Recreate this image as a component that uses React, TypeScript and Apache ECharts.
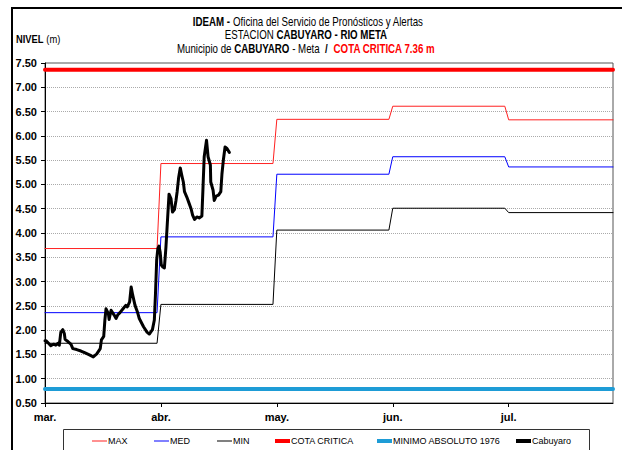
import React, { useEffect, useRef } from "react";
import * as echarts from "echarts";

const monthLabels = ["mar.", "abr.", "may.", "jun.", "jul."];
const maxMonthly = [3.68, 5.43, 6.34, 6.61, 6.33];
const medMonthly = [2.36, 3.92, 5.21, 5.57, 5.36];
const minMonthly = [1.73, 2.53, 4.06, 4.51, 4.42];
const cotaCritica = 7.36;
const minimoAbsoluto = 0.79;
const lastDay = 147;

const cabDays = [
  0, 0.3, 0.9, 1.5, 2.2, 2.8, 3.4, 3.7, 4.1, 4.6, 5.0, 5.2, 6.0, 6.7, 7.2, 8.2, 9.3, 10.4, 11.5, 12.5,
  13.4, 14.3, 14.6, 15.2, 15.5, 15.8, 16.4, 16.6, 17.1, 17.9, 18.4, 18.8, 19.4, 20.3, 20.9, 21.3, 21.9,
  22.3, 22.7, 23.3, 23.9, 24.4, 25.5, 26.4, 27.0, 27.8, 28.3, 28.6, 28.9, 29.2, 29.5, 29.8, 30.1, 30.5,
  30.9, 31.3, 31.7, 32.1, 32.6, 33.0, 33.5, 33.9, 34.2, 34.6, 35.0, 35.4, 35.8, 36.1, 36.7, 37.3, 37.8,
  38.2, 38.7, 39.3, 39.9, 40.6, 40.9, 41.2, 41.8, 42.2, 42.8, 42.9, 43.5, 43.8, 44.3, 44.9, 45.5, 45.8,
  46.2, 46.6, 47.1, 47.7,
];
const cabLevels = [
  1.78, 1.78, 1.73, 1.68, 1.71, 1.69, 1.73, 1.69, 1.96, 2.01, 1.93, 1.81, 1.76, 1.71, 1.62, 1.6, 1.57, 1.53,
  1.49, 1.45, 1.51, 1.62, 1.8, 1.87, 2.21, 2.44, 2.34, 2.22, 2.41, 2.31, 2.24, 2.31, 2.36, 2.45, 2.51, 2.48,
  2.58, 2.89, 2.72, 2.51, 2.38, 2.24, 2.07, 1.96, 1.92, 2.01, 2.21, 2.76, 3.44, 3.68, 3.73, 3.61, 3.34, 3.3,
  3.28, 3.71, 4.26, 4.8, 4.71, 4.43, 4.48, 4.67, 4.85, 5.15, 5.34, 5.19, 5.05, 4.85, 4.74, 4.61, 4.5, 4.37,
  4.28, 4.33, 4.31, 4.35, 4.95, 5.57, 5.91, 5.57, 5.4, 5.05, 4.88, 4.67, 4.76, 4.78, 4.85, 5.22, 5.53, 5.77,
  5.74, 5.66,
];

const FONT = '"Liberation Sans", Arial, sans-serif';

function stepData(values: number[]) {
  const pts: number[][] = [];
  values.forEach((v, m) => {
    const start = m * 30;
    const end = m === values.length - 1 ? lastDay : m * 30 + 29;
    pts.push([start, v], [end, v]);
  });
  return pts;
}

function flatData(v: number) {
  return [
    [0, v],
    [lastDay, v],
  ];
}

export default function App() {
  const ref = useRef<HTMLDivElement>(null);
  useEffect(() => {
    if (!ref.current) return;
    const chart = echarts.init(ref.current, undefined, { renderer: "svg" });
    const legendItem = (name: string, left: number, h: number) => ({
      left,
      top: 435,
      padding: 0,
      itemWidth: 15,
      itemHeight: h,
      icon: "rect",
      selectedMode: false,
      data: [name],
      textStyle: { fontFamily: FONT, fontSize: 9, color: "#000", lineHeight: 12, padding: [0, 0, 0, -4] },
    });
    const lineSeries = (name: string, data: number[][], color: string, width: number, z: number) => ({
      name,
      type: "line",
      data,
      symbol: "none",
      showSymbol: false,
      z,
      color,
      lineStyle: { color, width, join: "round", cap: "round" },
      itemStyle: { color },
    });
    const rich = {
      b: { fontFamily: FONT, fontSize: 12, fontWeight: "bold", fill: "#000" },
      n: { fontFamily: FONT, fontSize: 12, fill: "#000" },
      r: { fontFamily: FONT, fontSize: 12, fontWeight: "bold", fill: "#ff0000" },
    };
    chart.setOption({
      animation: false,
      backgroundColor: "#fff",
      grid: {
        left: 45,
        right: 9,
        top: 63,
        bottom: 47,
        show: true,
        borderColor: "#555",
        borderWidth: 1,
        backgroundColor: "transparent",
      },
      xAxis: {
        type: "value",
        min: 0,
        max: lastDay,
        interval: 30,
        axisLine: { lineStyle: { color: "#000", width: 1 } },
        axisTick: { show: true, inside: false, length: 4, lineStyle: { color: "#000" } },
        splitLine: { show: false },
        axisLabel: {
          margin: 8,
          fontFamily: FONT,
          fontWeight: "bold",
          fontSize: 11,
          color: "#000",
          showMaxLabel: false,
          formatter: (v: number) => (v % 30 === 0 ? monthLabels[v / 30] || "" : ""),
        },
      },
      yAxis: {
        type: "value",
        min: 0.5,
        max: 7.5,
        interval: 0.5,
        axisLine: { show: true, lineStyle: { color: "#000", width: 1 } },
        axisTick: { show: true, inside: false, length: 4, lineStyle: { color: "#000" } },
        splitLine: { show: true, lineStyle: { color: "#aaa", type: "dotted", width: 1 } },
        axisLabel: {
          margin: 8,
          fontFamily: FONT,
          fontWeight: "bold",
          fontSize: 11,
          color: "#000",
          formatter: (v: number) => v.toFixed(2),
        },
      },
      legend: [
        legendItem("MAX", 92, 1),
        legendItem("MED", 154, 1),
        legendItem("MIN", 217, 1),
        legendItem("COTA CRITICA", 275, 4),
        legendItem("MINIMO ABSOLUTO 1976", 377, 4),
        legendItem("Cabuyaro", 516, 4),
      ],
      series: [
        lineSeries("MAX", stepData(maxMonthly), "#ff2020", 1, 2),
        lineSeries("MED", stepData(medMonthly), "#0000ff", 1, 2),
        lineSeries("MIN", stepData(minMonthly), "#000000", 1, 2),
        lineSeries("COTA CRITICA", flatData(cotaCritica), "#ff0000", 4, 3),
        lineSeries("MINIMO ABSOLUTO 1976", flatData(minimoAbsoluto), "#1e9cd6", 4, 3),
        lineSeries(
          "Cabuyaro",
          cabDays.map((d, i) => [d, cabLevels[i]]),
          "#000000",
          3,
          4
        ),
      ],
      graphic: [
        {
          type: "rect",
          shape: { x: 12, y: 8, width: 640, height: 480 },
          style: { fill: "none", stroke: "#000", lineWidth: 2 },
          silent: true,
        },
        {
          type: "rect",
          shape: { x: 63.5, y: 429.5, width: 526, height: 40 },
          style: { fill: "none", stroke: "#333", lineWidth: 1 },
          silent: true,
        },
        {
          type: "text",
          x: 308,
          y: 22,
          scaleX: 0.81,
          style: {
            text: "{b|IDEAM -} {n|Oficina del Servicio de Pronósticos y Alertas}",
            align: "center",
            verticalAlign: "middle",
            rich,
          },
        },
        {
          type: "text",
          x: 306,
          y: 35,
          scaleX: 0.81,
          style: {
            text: "{n|ESTACION} {b|CABUYARO - RIO META}",
            align: "center",
            verticalAlign: "middle",
            rich,
          },
        },
        {
          type: "text",
          x: 306,
          y: 49,
          scaleX: 0.81,
          style: {
            text: "{n|Municipio de} {b|CABUYARO} {n|- Meta}  {b|/}  {r|COTA CRITICA 7.36 m}",
            align: "center",
            verticalAlign: "middle",
            rich,
          },
        },
        {
          type: "text",
          x: 16,
          y: 39,
          scaleX: 0.85,
          style: {
            text: "{b|NIVEL} {n|(m)}",
            align: "left",
            verticalAlign: "middle",
            rich: {
              b: { fontFamily: FONT, fontSize: 11, fontWeight: "bold", fill: "#000" },
              n: { fontFamily: FONT, fontSize: 11, fill: "#000" },
            },
          },
        },
      ],
    });
    return () => chart.dispose();
  }, []);
  return (
    <div
      ref={ref}
      style={{ position: "fixed", left: 0, top: 0, width: 622, height: 450 }}
    />
  );
}
